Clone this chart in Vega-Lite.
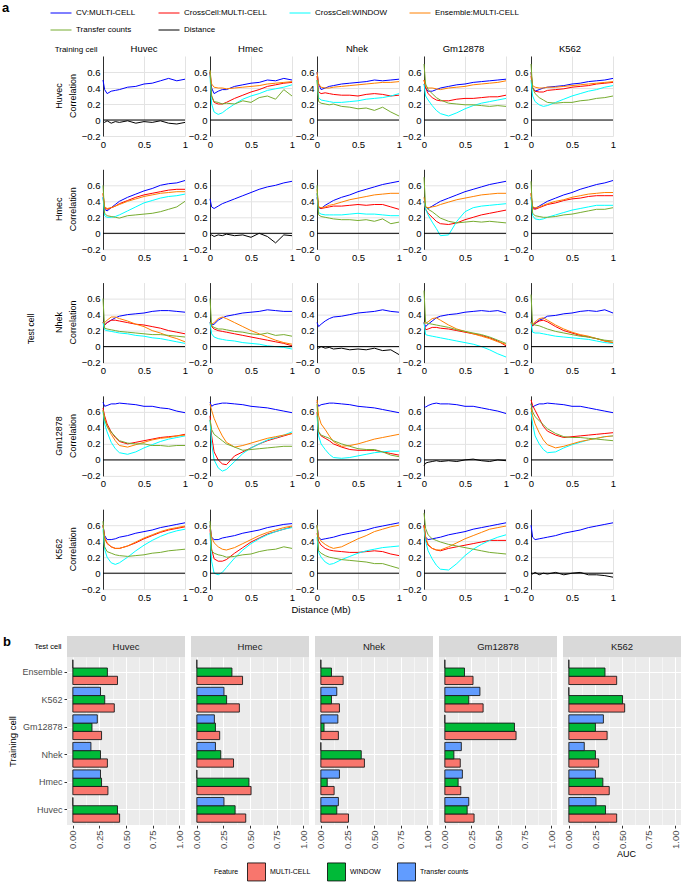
{
"$schema":"https://vega.github.io/schema/vega-lite/v6.json",
"padding":{"left":2,"top":2,"right":0,"bottom":2},
"config":{"font":"Liberation Sans","view":{"stroke":null},"axis":{"labelOverlap":false},"legend":{"layout":{"top":{"anchor":"start"},"bottom":{"anchor":"middle"}}}},
"datasets":{
"lines":[
{"t":"Huvec","r":"Huvec","x":0,"a":0.5,"d":-0.02},{"t":"Huvec","r":"Huvec","x":0.02,"a":0.38,"d":-0.03},{"t":"Huvec","r":"Huvec","x":0.05,"a":0.33,"d":-0.01},{"t":"Huvec","r":"Huvec","x":0.1,"a":0.36,"d":-0.04},{"t":"Huvec","r":"Huvec","x":0.15,"a":0.37,"d":-0.02},{"t":"Huvec","r":"Huvec","x":0.2,"a":0.38,"d":-0.03},{"t":"Huvec","r":"Huvec","x":0.3,"a":0.41,"d":-0.01},{"t":"Huvec","r":"Huvec","x":0.4,"a":0.42,"d":-0.04},{"t":"Huvec","r":"Huvec","x":0.5,"a":0.45,"d":-0.02},{"t":"Huvec","r":"Huvec","x":0.6,"a":0.46,"d":-0.03},{"t":"Huvec","r":"Huvec","x":0.7,"a":0.49,"d":-0.01},{"t":"Huvec","r":"Huvec","x":0.8,"a":0.52,"d":-0.04},{"t":"Huvec","r":"Huvec","x":0.9,"a":0.49,"d":-0.05},{"t":"Huvec","r":"Huvec","x":1,"a":0.51,"d":-0.03},
{"t":"Huvec","r":"Hmec","x":0,"a":0.6,"m":0.6,"w":0.55,"e":0.62,"g":0.62},{"t":"Huvec","r":"Hmec","x":0.02,"a":0.4,"m":0.3,"w":0.2,"e":0.45,"g":0.3},{"t":"Huvec","r":"Hmec","x":0.05,"a":0.33,"m":0.22,"w":0.1,"e":0.41,"g":0.23},{"t":"Huvec","r":"Hmec","x":0.1,"a":0.36,"m":0.2,"w":0.07,"e":0.4,"g":0.22},{"t":"Huvec","r":"Hmec","x":0.15,"a":0.38,"m":0.2,"w":0.09,"e":0.4,"g":0.2},{"t":"Huvec","r":"Hmec","x":0.2,"a":0.38,"m":0.22,"w":0.13,"e":0.39,"g":0.21},{"t":"Huvec","r":"Hmec","x":0.3,"a":0.42,"m":0.27,"w":0.2,"e":0.4,"g":0.2},{"t":"Huvec","r":"Hmec","x":0.4,"a":0.44,"m":0.31,"w":0.26,"e":0.41,"g":0.24},{"t":"Huvec","r":"Hmec","x":0.5,"a":0.46,"m":0.35,"w":0.3,"e":0.42,"g":0.22},{"t":"Huvec","r":"Hmec","x":0.6,"a":0.47,"m":0.38,"w":0.33,"e":0.43,"g":0.28},{"t":"Huvec","r":"Hmec","x":0.7,"a":0.5,"m":0.42,"w":0.37,"e":0.45,"g":0.3},{"t":"Huvec","r":"Hmec","x":0.8,"a":0.49,"m":0.44,"w":0.39,"e":0.46,"g":0.26},{"t":"Huvec","r":"Hmec","x":0.9,"a":0.52,"m":0.46,"w":0.41,"e":0.47,"g":0.38},{"t":"Huvec","r":"Hmec","x":1,"a":0.5,"m":0.47,"w":0.44,"e":0.48,"g":0.3},
{"t":"Huvec","r":"Nhek","x":0,"a":0.6,"m":0.55,"w":0.5,"e":0.6,"g":0.5},{"t":"Huvec","r":"Nhek","x":0.02,"a":0.45,"m":0.35,"w":0.28,"e":0.45,"g":0.23},{"t":"Huvec","r":"Nhek","x":0.05,"a":0.38,"m":0.33,"w":0.25,"e":0.41,"g":0.21},{"t":"Huvec","r":"Nhek","x":0.1,"a":0.4,"m":0.34,"w":0.24,"e":0.4,"g":0.2},{"t":"Huvec","r":"Nhek","x":0.15,"a":0.42,"m":0.33,"w":0.23,"e":0.4,"g":0.19},{"t":"Huvec","r":"Nhek","x":0.2,"a":0.43,"m":0.32,"w":0.22,"e":0.41,"g":0.2},{"t":"Huvec","r":"Nhek","x":0.3,"a":0.45,"m":0.31,"w":0.22,"e":0.42,"g":0.17},{"t":"Huvec","r":"Nhek","x":0.4,"a":0.46,"m":0.31,"w":0.23,"e":0.43,"g":0.16},{"t":"Huvec","r":"Nhek","x":0.5,"a":0.47,"m":0.3,"w":0.24,"e":0.44,"g":0.14},{"t":"Huvec","r":"Nhek","x":0.6,"a":0.48,"m":0.32,"w":0.26,"e":0.45,"g":0.15},{"t":"Huvec","r":"Nhek","x":0.7,"a":0.5,"m":0.33,"w":0.27,"e":0.46,"g":0.12},{"t":"Huvec","r":"Nhek","x":0.8,"a":0.49,"m":0.32,"w":0.28,"e":0.47,"g":0.16},{"t":"Huvec","r":"Nhek","x":0.9,"a":0.5,"m":0.3,"w":0.3,"e":0.47,"g":0.1},{"t":"Huvec","r":"Nhek","x":1,"a":0.51,"m":0.31,"w":0.33,"e":0.48,"g":0.05},
{"t":"Huvec","r":"Gm12878","x":0,"a":0.45,"m":0.5,"w":0.45,"e":0.5,"g":0.7},{"t":"Huvec","r":"Gm12878","x":0.02,"a":0.4,"m":0.4,"w":0.3,"e":0.42,"g":0.45},{"t":"Huvec","r":"Gm12878","x":0.05,"a":0.36,"m":0.33,"w":0.25,"e":0.4,"g":0.38},{"t":"Huvec","r":"Gm12878","x":0.1,"a":0.36,"m":0.28,"w":0.18,"e":0.4,"g":0.33},{"t":"Huvec","r":"Gm12878","x":0.15,"a":0.38,"m":0.25,"w":0.12,"e":0.39,"g":0.28},{"t":"Huvec","r":"Gm12878","x":0.2,"a":0.4,"m":0.24,"w":0.08,"e":0.38,"g":0.25},{"t":"Huvec","r":"Gm12878","x":0.3,"a":0.42,"m":0.24,"w":0.05,"e":0.4,"g":0.21},{"t":"Huvec","r":"Gm12878","x":0.4,"a":0.44,"m":0.26,"w":0.09,"e":0.41,"g":0.2},{"t":"Huvec","r":"Gm12878","x":0.5,"a":0.45,"m":0.27,"w":0.14,"e":0.42,"g":0.19},{"t":"Huvec","r":"Gm12878","x":0.6,"a":0.47,"m":0.27,"w":0.18,"e":0.44,"g":0.19},{"t":"Huvec","r":"Gm12878","x":0.7,"a":0.48,"m":0.28,"w":0.21,"e":0.45,"g":0.18},{"t":"Huvec","r":"Gm12878","x":0.8,"a":0.49,"m":0.29,"w":0.23,"e":0.46,"g":0.17},{"t":"Huvec","r":"Gm12878","x":0.9,"a":0.5,"m":0.29,"w":0.25,"e":0.47,"g":0.18},{"t":"Huvec","r":"Gm12878","x":1,"a":0.51,"m":0.31,"w":0.27,"e":0.49,"g":0.17},
{"t":"Huvec","r":"K562","x":0,"a":0.6,"m":0.55,"w":0.5,"e":0.6,"g":0.7},{"t":"Huvec","r":"K562","x":0.02,"a":0.4,"m":0.4,"w":0.3,"e":0.43,"g":0.4},{"t":"Huvec","r":"K562","x":0.05,"a":0.36,"m":0.36,"w":0.23,"e":0.41,"g":0.33},{"t":"Huvec","r":"K562","x":0.1,"a":0.38,"m":0.35,"w":0.19,"e":0.4,"g":0.28},{"t":"Huvec","r":"K562","x":0.15,"a":0.4,"m":0.35,"w":0.17,"e":0.4,"g":0.25},{"t":"Huvec","r":"K562","x":0.2,"a":0.41,"m":0.37,"w":0.18,"e":0.41,"g":0.22},{"t":"Huvec","r":"K562","x":0.3,"a":0.42,"m":0.38,"w":0.22,"e":0.41,"g":0.21},{"t":"Huvec","r":"K562","x":0.4,"a":0.43,"m":0.39,"w":0.26,"e":0.42,"g":0.22},{"t":"Huvec","r":"K562","x":0.5,"a":0.45,"m":0.41,"w":0.3,"e":0.43,"g":0.22},{"t":"Huvec","r":"K562","x":0.6,"a":0.46,"m":0.42,"w":0.33,"e":0.44,"g":0.24},{"t":"Huvec","r":"K562","x":0.7,"a":0.48,"m":0.43,"w":0.36,"e":0.45,"g":0.25},{"t":"Huvec","r":"K562","x":0.8,"a":0.49,"m":0.45,"w":0.38,"e":0.46,"g":0.27},{"t":"Huvec","r":"K562","x":0.9,"a":0.5,"m":0.46,"w":0.41,"e":0.47,"g":0.28},{"t":"Huvec","r":"K562","x":1,"a":0.52,"m":0.47,"w":0.43,"e":0.48,"g":0.3},
{"t":"Hmec","r":"Huvec","x":0,"a":0.45,"m":0.5,"w":0.45,"e":0.5,"g":0.6},{"t":"Hmec","r":"Huvec","x":0.02,"a":0.3,"m":0.32,"w":0.22,"e":0.33,"g":0.25},{"t":"Hmec","r":"Huvec","x":0.05,"a":0.28,"m":0.3,"w":0.2,"e":0.31,"g":0.22},{"t":"Hmec","r":"Huvec","x":0.1,"a":0.32,"m":0.32,"w":0.2,"e":0.32,"g":0.21},{"t":"Hmec","r":"Huvec","x":0.15,"a":0.36,"m":0.34,"w":0.21,"e":0.34,"g":0.2},{"t":"Hmec","r":"Huvec","x":0.2,"a":0.4,"m":0.37,"w":0.23,"e":0.36,"g":0.19},{"t":"Hmec","r":"Huvec","x":0.3,"a":0.45,"m":0.41,"w":0.28,"e":0.4,"g":0.22},{"t":"Hmec","r":"Huvec","x":0.4,"a":0.49,"m":0.45,"w":0.33,"e":0.43,"g":0.23},{"t":"Hmec","r":"Huvec","x":0.5,"a":0.53,"m":0.48,"w":0.38,"e":0.46,"g":0.24},{"t":"Hmec","r":"Huvec","x":0.6,"a":0.56,"m":0.5,"w":0.41,"e":0.48,"g":0.25},{"t":"Hmec","r":"Huvec","x":0.7,"a":0.6,"m":0.52,"w":0.44,"e":0.5,"g":0.27},{"t":"Hmec","r":"Huvec","x":0.8,"a":0.62,"m":0.54,"w":0.46,"e":0.51,"g":0.3},{"t":"Hmec","r":"Huvec","x":0.9,"a":0.63,"m":0.55,"w":0.47,"e":0.52,"g":0.33},{"t":"Hmec","r":"Huvec","x":1,"a":0.66,"m":0.55,"w":0.49,"e":0.52,"g":0.4},
{"t":"Hmec","r":"Hmec","x":0,"a":0.43,"d":-0.03},{"t":"Hmec","r":"Hmec","x":0.02,"a":0.33,"d":-0.02},{"t":"Hmec","r":"Hmec","x":0.05,"a":0.31,"d":-0.04},{"t":"Hmec","r":"Hmec","x":0.1,"a":0.34,"d":-0.02},{"t":"Hmec","r":"Hmec","x":0.15,"a":0.37,"d":-0.03},{"t":"Hmec","r":"Hmec","x":0.2,"a":0.39,"d":-0.01},{"t":"Hmec","r":"Hmec","x":0.3,"a":0.43,"d":-0.03},{"t":"Hmec","r":"Hmec","x":0.4,"a":0.47,"d":-0.02},{"t":"Hmec","r":"Hmec","x":0.5,"a":0.51,"d":-0.05},{"t":"Hmec","r":"Hmec","x":0.6,"a":0.55,"d":0},{"t":"Hmec","r":"Hmec","x":0.7,"a":0.58,"d":-0.04},{"t":"Hmec","r":"Hmec","x":0.8,"a":0.6,"d":-0.12},{"t":"Hmec","r":"Hmec","x":0.9,"a":0.63,"d":-0.02},{"t":"Hmec","r":"Hmec","x":1,"a":0.65,"d":-0.03},
{"t":"Hmec","r":"Nhek","x":0,"a":0.45,"m":0.5,"w":0.5,"e":0.55,"g":0.6},{"t":"Hmec","r":"Nhek","x":0.02,"a":0.32,"m":0.33,"w":0.26,"e":0.33,"g":0.23},{"t":"Hmec","r":"Nhek","x":0.05,"a":0.31,"m":0.31,"w":0.24,"e":0.32,"g":0.21},{"t":"Hmec","r":"Nhek","x":0.1,"a":0.35,"m":0.32,"w":0.23,"e":0.33,"g":0.2},{"t":"Hmec","r":"Nhek","x":0.15,"a":0.38,"m":0.33,"w":0.23,"e":0.35,"g":0.19},{"t":"Hmec","r":"Nhek","x":0.2,"a":0.41,"m":0.34,"w":0.23,"e":0.36,"g":0.18},{"t":"Hmec","r":"Nhek","x":0.3,"a":0.45,"m":0.34,"w":0.23,"e":0.39,"g":0.17},{"t":"Hmec","r":"Nhek","x":0.4,"a":0.48,"m":0.35,"w":0.24,"e":0.42,"g":0.17},{"t":"Hmec","r":"Nhek","x":0.5,"a":0.52,"m":0.36,"w":0.25,"e":0.44,"g":0.16},{"t":"Hmec","r":"Nhek","x":0.6,"a":0.55,"m":0.35,"w":0.24,"e":0.46,"g":0.17},{"t":"Hmec","r":"Nhek","x":0.7,"a":0.58,"m":0.36,"w":0.24,"e":0.48,"g":0.15},{"t":"Hmec","r":"Nhek","x":0.8,"a":0.61,"m":0.36,"w":0.23,"e":0.49,"g":0.18},{"t":"Hmec","r":"Nhek","x":0.9,"a":0.63,"m":0.33,"w":0.22,"e":0.5,"g":0.12},{"t":"Hmec","r":"Nhek","x":1,"a":0.65,"m":0.3,"w":0.22,"e":0.5,"g":0.14},
{"t":"Hmec","r":"Gm12878","x":0,"a":0.4,"m":0.4,"w":0.4,"e":0.45,"g":0.7},{"t":"Hmec","r":"Gm12878","x":0.02,"a":0.33,"m":0.3,"w":0.3,"e":0.33,"g":0.33},{"t":"Hmec","r":"Gm12878","x":0.05,"a":0.31,"m":0.25,"w":0.23,"e":0.32,"g":0.3},{"t":"Hmec","r":"Gm12878","x":0.1,"a":0.34,"m":0.2,"w":0.14,"e":0.33,"g":0.27},{"t":"Hmec","r":"Gm12878","x":0.15,"a":0.37,"m":0.15,"w":0.06,"e":0.34,"g":0.23},{"t":"Hmec","r":"Gm12878","x":0.2,"a":0.4,"m":0.12,"w":-0.03,"e":0.36,"g":0.19},{"t":"Hmec","r":"Gm12878","x":0.3,"a":0.44,"m":0.11,"w":-0.02,"e":0.39,"g":0.15},{"t":"Hmec","r":"Gm12878","x":0.4,"a":0.48,"m":0.13,"w":0.15,"e":0.42,"g":0.13},{"t":"Hmec","r":"Gm12878","x":0.5,"a":0.52,"m":0.17,"w":0.27,"e":0.44,"g":0.14},{"t":"Hmec","r":"Gm12878","x":0.6,"a":0.55,"m":0.2,"w":0.32,"e":0.46,"g":0.15},{"t":"Hmec","r":"Gm12878","x":0.7,"a":0.58,"m":0.23,"w":0.34,"e":0.48,"g":0.14},{"t":"Hmec","r":"Gm12878","x":0.8,"a":0.61,"m":0.25,"w":0.35,"e":0.49,"g":0.15},{"t":"Hmec","r":"Gm12878","x":0.9,"a":0.63,"m":0.27,"w":0.36,"e":0.5,"g":0.14},{"t":"Hmec","r":"Gm12878","x":1,"a":0.65,"m":0.29,"w":0.37,"e":0.5,"g":0.13},
{"t":"Hmec","r":"K562","x":0,"a":0.45,"m":0.5,"w":0.45,"e":0.5,"g":0.65},{"t":"Hmec","r":"K562","x":0.02,"a":0.33,"m":0.31,"w":0.22,"e":0.33,"g":0.25},{"t":"Hmec","r":"K562","x":0.05,"a":0.31,"m":0.3,"w":0.18,"e":0.32,"g":0.22},{"t":"Hmec","r":"K562","x":0.1,"a":0.34,"m":0.32,"w":0.17,"e":0.33,"g":0.21},{"t":"Hmec","r":"K562","x":0.15,"a":0.37,"m":0.34,"w":0.18,"e":0.35,"g":0.2},{"t":"Hmec","r":"K562","x":0.2,"a":0.4,"m":0.36,"w":0.2,"e":0.37,"g":0.2},{"t":"Hmec","r":"K562","x":0.3,"a":0.44,"m":0.38,"w":0.23,"e":0.4,"g":0.21},{"t":"Hmec","r":"K562","x":0.4,"a":0.48,"m":0.41,"w":0.26,"e":0.42,"g":0.23},{"t":"Hmec","r":"K562","x":0.5,"a":0.51,"m":0.43,"w":0.29,"e":0.45,"g":0.24},{"t":"Hmec","r":"K562","x":0.6,"a":0.55,"m":0.44,"w":0.31,"e":0.47,"g":0.26},{"t":"Hmec","r":"K562","x":0.7,"a":0.58,"m":0.46,"w":0.33,"e":0.49,"g":0.28},{"t":"Hmec","r":"K562","x":0.8,"a":0.61,"m":0.47,"w":0.35,"e":0.5,"g":0.3},{"t":"Hmec","r":"K562","x":0.9,"a":0.63,"m":0.47,"w":0.35,"e":0.51,"g":0.3},{"t":"Hmec","r":"K562","x":1,"a":0.66,"m":0.47,"w":0.35,"e":0.51,"g":0.32},
{"t":"Nhek","r":"Huvec","x":0,"a":0.3,"m":0.3,"w":0.3,"e":0.3,"g":0.6},{"t":"Nhek","r":"Huvec","x":0.02,"a":0.27,"m":0.27,"w":0.21,"e":0.3,"g":0.23},{"t":"Nhek","r":"Huvec","x":0.05,"a":0.3,"m":0.3,"w":0.2,"e":0.33,"g":0.22},{"t":"Nhek","r":"Huvec","x":0.1,"a":0.33,"m":0.33,"w":0.19,"e":0.37,"g":0.21},{"t":"Nhek","r":"Huvec","x":0.15,"a":0.36,"m":0.33,"w":0.18,"e":0.37,"g":0.2},{"t":"Nhek","r":"Huvec","x":0.2,"a":0.38,"m":0.32,"w":0.17,"e":0.35,"g":0.19},{"t":"Nhek","r":"Huvec","x":0.3,"a":0.4,"m":0.3,"w":0.16,"e":0.32,"g":0.18},{"t":"Nhek","r":"Huvec","x":0.4,"a":0.41,"m":0.28,"w":0.14,"e":0.28,"g":0.17},{"t":"Nhek","r":"Huvec","x":0.5,"a":0.42,"m":0.27,"w":0.13,"e":0.25,"g":0.16},{"t":"Nhek","r":"Huvec","x":0.6,"a":0.44,"m":0.25,"w":0.11,"e":0.2,"g":0.15},{"t":"Nhek","r":"Huvec","x":0.7,"a":0.45,"m":0.23,"w":0.1,"e":0.17,"g":0.15},{"t":"Nhek","r":"Huvec","x":0.8,"a":0.45,"m":0.2,"w":0.08,"e":0.13,"g":0.14},{"t":"Nhek","r":"Huvec","x":0.9,"a":0.44,"m":0.18,"w":0.06,"e":0.1,"g":0.13},{"t":"Nhek","r":"Huvec","x":1,"a":0.43,"m":0.16,"w":0.04,"e":0.06,"g":0.12},
{"t":"Nhek","r":"Hmec","x":0,"a":0.3,"m":0.3,"w":0.3,"e":0.3,"g":0.6},{"t":"Nhek","r":"Hmec","x":0.02,"a":0.27,"m":0.25,"w":0.16,"e":0.28,"g":0.26},{"t":"Nhek","r":"Hmec","x":0.05,"a":0.28,"m":0.22,"w":0.12,"e":0.3,"g":0.24},{"t":"Nhek","r":"Hmec","x":0.1,"a":0.33,"m":0.2,"w":0.1,"e":0.35,"g":0.22},{"t":"Nhek","r":"Hmec","x":0.15,"a":0.36,"m":0.19,"w":0.09,"e":0.37,"g":0.22},{"t":"Nhek","r":"Hmec","x":0.2,"a":0.38,"m":0.18,"w":0.08,"e":0.35,"g":0.21},{"t":"Nhek","r":"Hmec","x":0.3,"a":0.4,"m":0.16,"w":0.07,"e":0.3,"g":0.19},{"t":"Nhek","r":"Hmec","x":0.4,"a":0.42,"m":0.14,"w":0.05,"e":0.25,"g":0.18},{"t":"Nhek","r":"Hmec","x":0.5,"a":0.43,"m":0.12,"w":0.04,"e":0.2,"g":0.16},{"t":"Nhek","r":"Hmec","x":0.6,"a":0.44,"m":0.1,"w":0.03,"e":0.16,"g":0.15},{"t":"Nhek","r":"Hmec","x":0.7,"a":0.46,"m":0.08,"w":0.01,"e":0.12,"g":0.17},{"t":"Nhek","r":"Hmec","x":0.8,"a":0.45,"m":0.06,"w":0,"e":0.08,"g":0.14},{"t":"Nhek","r":"Hmec","x":0.9,"a":0.44,"m":0.04,"w":-0.01,"e":0.05,"g":0.15},{"t":"Nhek","r":"Hmec","x":1,"a":0.44,"m":0.01,"w":-0.03,"e":0.03,"g":0.13},
{"t":"Nhek","r":"Nhek","x":0,"a":0.3,"d":0},{"t":"Nhek","r":"Nhek","x":0.02,"a":0.25,"d":-0.02},{"t":"Nhek","r":"Nhek","x":0.05,"a":0.28,"d":0},{"t":"Nhek","r":"Nhek","x":0.1,"a":0.32,"d":-0.02},{"t":"Nhek","r":"Nhek","x":0.15,"a":0.35,"d":-0.01},{"t":"Nhek","r":"Nhek","x":0.2,"a":0.37,"d":-0.03},{"t":"Nhek","r":"Nhek","x":0.3,"a":0.38,"d":-0.02},{"t":"Nhek","r":"Nhek","x":0.4,"a":0.4,"d":-0.04},{"t":"Nhek","r":"Nhek","x":0.5,"a":0.42,"d":-0.03},{"t":"Nhek","r":"Nhek","x":0.6,"a":0.43,"d":-0.04},{"t":"Nhek","r":"Nhek","x":0.7,"a":0.44,"d":-0.02},{"t":"Nhek","r":"Nhek","x":0.8,"a":0.46,"d":-0.05},{"t":"Nhek","r":"Nhek","x":0.9,"a":0.44,"d":-0.04},{"t":"Nhek","r":"Nhek","x":1,"a":0.43,"d":-0.1},
{"t":"Nhek","r":"Gm12878","x":0,"a":0.3,"m":0.3,"w":0.3,"e":0.3,"g":0.7},{"t":"Nhek","r":"Gm12878","x":0.02,"a":0.25,"m":0.21,"w":0.15,"e":0.29,"g":0.3},{"t":"Nhek","r":"Gm12878","x":0.05,"a":0.28,"m":0.22,"w":0.14,"e":0.31,"g":0.29},{"t":"Nhek","r":"Gm12878","x":0.1,"a":0.32,"m":0.24,"w":0.13,"e":0.35,"g":0.28},{"t":"Nhek","r":"Gm12878","x":0.15,"a":0.36,"m":0.24,"w":0.12,"e":0.36,"g":0.27},{"t":"Nhek","r":"Gm12878","x":0.2,"a":0.38,"m":0.23,"w":0.11,"e":0.33,"g":0.26},{"t":"Nhek","r":"Gm12878","x":0.3,"a":0.4,"m":0.22,"w":0.09,"e":0.27,"g":0.24},{"t":"Nhek","r":"Gm12878","x":0.4,"a":0.41,"m":0.2,"w":0.07,"e":0.22,"g":0.21},{"t":"Nhek","r":"Gm12878","x":0.5,"a":0.43,"m":0.18,"w":0.05,"e":0.19,"g":0.19},{"t":"Nhek","r":"Gm12878","x":0.6,"a":0.44,"m":0.16,"w":0.03,"e":0.16,"g":0.17},{"t":"Nhek","r":"Gm12878","x":0.7,"a":0.45,"m":0.14,"w":0,"e":0.13,"g":0.15},{"t":"Nhek","r":"Gm12878","x":0.8,"a":0.44,"m":0.11,"w":-0.04,"e":0.1,"g":0.12},{"t":"Nhek","r":"Gm12878","x":0.9,"a":0.45,"m":0.07,"w":-0.09,"e":0.06,"g":0.08},{"t":"Nhek","r":"Gm12878","x":1,"a":0.42,"m":0.01,"w":-0.13,"e":0.03,"g":0.04},
{"t":"Nhek","r":"K562","x":0,"a":0.3,"m":0.3,"w":0.3,"e":0.3,"g":0.65},{"t":"Nhek","r":"K562","x":0.02,"a":0.26,"m":0.26,"w":0.18,"e":0.28,"g":0.28},{"t":"Nhek","r":"K562","x":0.05,"a":0.29,"m":0.29,"w":0.17,"e":0.31,"g":0.27},{"t":"Nhek","r":"K562","x":0.1,"a":0.33,"m":0.32,"w":0.17,"e":0.35,"g":0.26},{"t":"Nhek","r":"K562","x":0.15,"a":0.35,"m":0.33,"w":0.16,"e":0.36,"g":0.24},{"t":"Nhek","r":"K562","x":0.2,"a":0.38,"m":0.31,"w":0.15,"e":0.33,"g":0.22},{"t":"Nhek","r":"K562","x":0.3,"a":0.39,"m":0.25,"w":0.13,"e":0.27,"g":0.19},{"t":"Nhek","r":"K562","x":0.4,"a":0.41,"m":0.2,"w":0.12,"e":0.22,"g":0.17},{"t":"Nhek","r":"K562","x":0.5,"a":0.42,"m":0.17,"w":0.11,"e":0.18,"g":0.15},{"t":"Nhek","r":"K562","x":0.6,"a":0.44,"m":0.14,"w":0.1,"e":0.15,"g":0.13},{"t":"Nhek","r":"K562","x":0.7,"a":0.45,"m":0.12,"w":0.09,"e":0.13,"g":0.12},{"t":"Nhek","r":"K562","x":0.8,"a":0.44,"m":0.1,"w":0.07,"e":0.1,"g":0.1},{"t":"Nhek","r":"K562","x":0.9,"a":0.46,"m":0.07,"w":0.05,"e":0.07,"g":0.08},{"t":"Nhek","r":"K562","x":1,"a":0.42,"m":0.05,"w":0.04,"e":0.05,"g":0.07},
{"t":"Gm12878","r":"Huvec","x":0,"a":0.72,"m":0.65,"w":0.6,"e":0.62,"g":0.62},{"t":"Gm12878","r":"Huvec","x":0.02,"a":0.67,"m":0.55,"w":0.45,"e":0.52,"g":0.5},{"t":"Gm12878","r":"Huvec","x":0.05,"a":0.68,"m":0.45,"w":0.35,"e":0.42,"g":0.42},{"t":"Gm12878","r":"Huvec","x":0.1,"a":0.7,"m":0.35,"w":0.22,"e":0.32,"g":0.35},{"t":"Gm12878","r":"Huvec","x":0.15,"a":0.7,"m":0.28,"w":0.14,"e":0.24,"g":0.29},{"t":"Gm12878","r":"Huvec","x":0.2,"a":0.71,"m":0.23,"w":0.09,"e":0.18,"g":0.24},{"t":"Gm12878","r":"Huvec","x":0.3,"a":0.7,"m":0.2,"w":0.07,"e":0.16,"g":0.21},{"t":"Gm12878","r":"Huvec","x":0.4,"a":0.69,"m":0.22,"w":0.1,"e":0.19,"g":0.2},{"t":"Gm12878","r":"Huvec","x":0.5,"a":0.67,"m":0.24,"w":0.15,"e":0.22,"g":0.2},{"t":"Gm12878","r":"Huvec","x":0.6,"a":0.67,"m":0.26,"w":0.19,"e":0.25,"g":0.18},{"t":"Gm12878","r":"Huvec","x":0.7,"a":0.65,"m":0.28,"w":0.23,"e":0.27,"g":0.18},{"t":"Gm12878","r":"Huvec","x":0.8,"a":0.64,"m":0.29,"w":0.26,"e":0.28,"g":0.17},{"t":"Gm12878","r":"Huvec","x":0.9,"a":0.61,"m":0.3,"w":0.28,"e":0.3,"g":0.18},{"t":"Gm12878","r":"Huvec","x":1,"a":0.59,"m":0.32,"w":0.3,"e":0.31,"g":0.18},
{"t":"Gm12878","r":"Hmec","x":0,"a":0.72,"m":0.55,"w":0.5,"e":0.7,"g":0.5},{"t":"Gm12878","r":"Hmec","x":0.02,"a":0.67,"m":0.3,"w":0.2,"e":0.62,"g":0.38},{"t":"Gm12878","r":"Hmec","x":0.05,"a":0.69,"m":0.1,"w":0,"e":0.52,"g":0.32},{"t":"Gm12878","r":"Hmec","x":0.1,"a":0.7,"m":0,"w":-0.1,"e":0.4,"g":0.28},{"t":"Gm12878","r":"Hmec","x":0.15,"a":0.71,"m":-0.05,"w":-0.14,"e":0.3,"g":0.24},{"t":"Gm12878","r":"Hmec","x":0.2,"a":0.71,"m":-0.06,"w":-0.12,"e":0.22,"g":0.2},{"t":"Gm12878","r":"Hmec","x":0.3,"a":0.7,"m":0.05,"w":-0.02,"e":0.16,"g":0.16},{"t":"Gm12878","r":"Hmec","x":0.4,"a":0.69,"m":0.1,"w":0.08,"e":0.18,"g":0.12},{"t":"Gm12878","r":"Hmec","x":0.5,"a":0.67,"m":0.15,"w":0.15,"e":0.21,"g":0.13},{"t":"Gm12878","r":"Hmec","x":0.6,"a":0.66,"m":0.2,"w":0.2,"e":0.24,"g":0.14},{"t":"Gm12878","r":"Hmec","x":0.7,"a":0.65,"m":0.24,"w":0.25,"e":0.27,"g":0.15},{"t":"Gm12878","r":"Hmec","x":0.8,"a":0.63,"m":0.27,"w":0.28,"e":0.29,"g":0.16},{"t":"Gm12878","r":"Hmec","x":0.9,"a":0.61,"m":0.3,"w":0.31,"e":0.31,"g":0.17},{"t":"Gm12878","r":"Hmec","x":1,"a":0.59,"m":0.33,"w":0.35,"e":0.33,"g":0.17},
{"t":"Gm12878","r":"Nhek","x":0,"a":0.72,"m":0.6,"w":0.55,"e":0.75,"g":0.7},{"t":"Gm12878","r":"Nhek","x":0.02,"a":0.67,"m":0.35,"w":0.3,"e":0.55,"g":0.35},{"t":"Gm12878","r":"Nhek","x":0.05,"a":0.69,"m":0.3,"w":0.2,"e":0.45,"g":0.31},{"t":"Gm12878","r":"Nhek","x":0.1,"a":0.7,"m":0.27,"w":0.13,"e":0.38,"g":0.29},{"t":"Gm12878","r":"Nhek","x":0.15,"a":0.71,"m":0.24,"w":0.07,"e":0.3,"g":0.27},{"t":"Gm12878","r":"Nhek","x":0.2,"a":0.71,"m":0.2,"w":0.03,"e":0.23,"g":0.24},{"t":"Gm12878","r":"Nhek","x":0.3,"a":0.7,"m":0.16,"w":0.02,"e":0.17,"g":0.2},{"t":"Gm12878","r":"Nhek","x":0.4,"a":0.69,"m":0.13,"w":0.03,"e":0.18,"g":0.17},{"t":"Gm12878","r":"Nhek","x":0.5,"a":0.67,"m":0.12,"w":0.05,"e":0.2,"g":0.14},{"t":"Gm12878","r":"Nhek","x":0.6,"a":0.66,"m":0.12,"w":0.07,"e":0.23,"g":0.13},{"t":"Gm12878","r":"Nhek","x":0.7,"a":0.65,"m":0.12,"w":0.09,"e":0.26,"g":0.13},{"t":"Gm12878","r":"Nhek","x":0.8,"a":0.63,"m":0.1,"w":0.1,"e":0.28,"g":0.1},{"t":"Gm12878","r":"Nhek","x":0.9,"a":0.61,"m":0.08,"w":0.11,"e":0.3,"g":0.06},{"t":"Gm12878","r":"Nhek","x":1,"a":0.59,"m":0.06,"w":0.11,"e":0.32,"g":0.04},
{"t":"Gm12878","r":"Gm12878","x":0,"a":0.68,"d":-0.07},{"t":"Gm12878","r":"Gm12878","x":0.02,"a":0.66,"d":-0.04},{"t":"Gm12878","r":"Gm12878","x":0.05,"a":0.68,"d":-0.03},{"t":"Gm12878","r":"Gm12878","x":0.1,"a":0.7,"d":-0.02},{"t":"Gm12878","r":"Gm12878","x":0.15,"a":0.71,"d":-0.01},{"t":"Gm12878","r":"Gm12878","x":0.2,"a":0.7,"d":-0.02},{"t":"Gm12878","r":"Gm12878","x":0.3,"a":0.7,"d":-0.01},{"t":"Gm12878","r":"Gm12878","x":0.4,"a":0.69,"d":-0.02},{"t":"Gm12878","r":"Gm12878","x":0.5,"a":0.67,"d":0},{"t":"Gm12878","r":"Gm12878","x":0.6,"a":0.67,"d":0.01},{"t":"Gm12878","r":"Gm12878","x":0.7,"a":0.65,"d":-0.01},{"t":"Gm12878","r":"Gm12878","x":0.8,"a":0.63,"d":-0.02},{"t":"Gm12878","r":"Gm12878","x":0.9,"a":0.61,"d":0},{"t":"Gm12878","r":"Gm12878","x":1,"a":0.58,"d":-0.01},
{"t":"Gm12878","r":"K562","x":0,"a":0.7,"m":0.75,"w":0.6,"e":0.65,"g":0.7},{"t":"Gm12878","r":"K562","x":0.02,"a":0.66,"m":0.68,"w":0.45,"e":0.55,"g":0.6},{"t":"Gm12878","r":"K562","x":0.05,"a":0.68,"m":0.62,"w":0.3,"e":0.45,"g":0.54},{"t":"Gm12878","r":"K562","x":0.1,"a":0.7,"m":0.52,"w":0.2,"e":0.34,"g":0.49},{"t":"Gm12878","r":"K562","x":0.15,"a":0.7,"m":0.42,"w":0.13,"e":0.25,"g":0.44},{"t":"Gm12878","r":"K562","x":0.2,"a":0.71,"m":0.36,"w":0.09,"e":0.19,"g":0.39},{"t":"Gm12878","r":"K562","x":0.3,"a":0.7,"m":0.31,"w":0.1,"e":0.15,"g":0.33},{"t":"Gm12878","r":"K562","x":0.4,"a":0.69,"m":0.28,"w":0.15,"e":0.17,"g":0.29},{"t":"Gm12878","r":"K562","x":0.5,"a":0.67,"m":0.29,"w":0.19,"e":0.2,"g":0.28},{"t":"Gm12878","r":"K562","x":0.6,"a":0.67,"m":0.3,"w":0.22,"e":0.23,"g":0.28},{"t":"Gm12878","r":"K562","x":0.7,"a":0.65,"m":0.31,"w":0.25,"e":0.25,"g":0.27},{"t":"Gm12878","r":"K562","x":0.8,"a":0.63,"m":0.32,"w":0.27,"e":0.27,"g":0.26},{"t":"Gm12878","r":"K562","x":0.9,"a":0.61,"m":0.33,"w":0.29,"e":0.29,"g":0.25},{"t":"Gm12878","r":"K562","x":1,"a":0.59,"m":0.34,"w":0.3,"e":0.3,"g":0.24},
{"t":"K562","r":"Huvec","x":0,"a":0.6,"m":0.6,"w":0.55,"e":0.6,"g":0.65},{"t":"K562","r":"Huvec","x":0.02,"a":0.47,"m":0.44,"w":0.3,"e":0.45,"g":0.33},{"t":"K562","r":"Huvec","x":0.05,"a":0.42,"m":0.37,"w":0.2,"e":0.38,"g":0.27},{"t":"K562","r":"Huvec","x":0.1,"a":0.42,"m":0.33,"w":0.13,"e":0.33,"g":0.25},{"t":"K562","r":"Huvec","x":0.15,"a":0.43,"m":0.31,"w":0.11,"e":0.31,"g":0.23},{"t":"K562","r":"Huvec","x":0.2,"a":0.45,"m":0.31,"w":0.13,"e":0.31,"g":0.22},{"t":"K562","r":"Huvec","x":0.3,"a":0.47,"m":0.34,"w":0.2,"e":0.34,"g":0.21},{"t":"K562","r":"Huvec","x":0.4,"a":0.5,"m":0.38,"w":0.28,"e":0.39,"g":0.22},{"t":"K562","r":"Huvec","x":0.5,"a":0.52,"m":0.43,"w":0.35,"e":0.44,"g":0.23},{"t":"K562","r":"Huvec","x":0.6,"a":0.54,"m":0.47,"w":0.41,"e":0.48,"g":0.25},{"t":"K562","r":"Huvec","x":0.7,"a":0.57,"m":0.51,"w":0.46,"e":0.52,"g":0.26},{"t":"K562","r":"Huvec","x":0.8,"a":0.59,"m":0.54,"w":0.5,"e":0.55,"g":0.28},{"t":"K562","r":"Huvec","x":0.9,"a":0.61,"m":0.56,"w":0.53,"e":0.57,"g":0.29},{"t":"K562","r":"Huvec","x":1,"a":0.63,"m":0.58,"w":0.55,"e":0.59,"g":0.3},
{"t":"K562","r":"Hmec","x":0,"a":0.6,"m":0.55,"w":0.5,"e":0.6,"g":0.65},{"t":"K562","r":"Hmec","x":0.02,"a":0.45,"m":0.3,"w":0.15,"e":0.45,"g":0.28},{"t":"K562","r":"Hmec","x":0.05,"a":0.42,"m":0.18,"w":0,"e":0.38,"g":0.25},{"t":"K562","r":"Hmec","x":0.1,"a":0.42,"m":0.15,"w":-0.02,"e":0.33,"g":0.23},{"t":"K562","r":"Hmec","x":0.15,"a":0.44,"m":0.15,"w":0.01,"e":0.3,"g":0.22},{"t":"K562","r":"Hmec","x":0.2,"a":0.45,"m":0.17,"w":0.07,"e":0.29,"g":0.2},{"t":"K562","r":"Hmec","x":0.3,"a":0.47,"m":0.25,"w":0.19,"e":0.32,"g":0.21},{"t":"K562","r":"Hmec","x":0.4,"a":0.5,"m":0.32,"w":0.29,"e":0.37,"g":0.23},{"t":"K562","r":"Hmec","x":0.5,"a":0.52,"m":0.39,"w":0.37,"e":0.42,"g":0.24},{"t":"K562","r":"Hmec","x":0.6,"a":0.54,"m":0.44,"w":0.43,"e":0.47,"g":0.27},{"t":"K562","r":"Hmec","x":0.7,"a":0.57,"m":0.49,"w":0.48,"e":0.51,"g":0.29},{"t":"K562","r":"Hmec","x":0.8,"a":0.59,"m":0.52,"w":0.52,"e":0.54,"g":0.3},{"t":"K562","r":"Hmec","x":0.9,"a":0.61,"m":0.55,"w":0.55,"e":0.57,"g":0.33},{"t":"K562","r":"Hmec","x":1,"a":0.62,"m":0.58,"w":0.57,"e":0.59,"g":0.31},
{"t":"K562","r":"Nhek","x":0,"a":0.6,"m":0.5,"w":0.45,"e":0.6,"g":0.6},{"t":"K562","r":"Nhek","x":0.02,"a":0.45,"m":0.4,"w":0.26,"e":0.45,"g":0.28},{"t":"K562","r":"Nhek","x":0.05,"a":0.42,"m":0.35,"w":0.2,"e":0.4,"g":0.25},{"t":"K562","r":"Nhek","x":0.1,"a":0.43,"m":0.31,"w":0.14,"e":0.36,"g":0.22},{"t":"K562","r":"Nhek","x":0.15,"a":0.44,"m":0.29,"w":0.11,"e":0.33,"g":0.2},{"t":"K562","r":"Nhek","x":0.2,"a":0.45,"m":0.28,"w":0.12,"e":0.31,"g":0.19},{"t":"K562","r":"Nhek","x":0.3,"a":0.48,"m":0.27,"w":0.17,"e":0.33,"g":0.17},{"t":"K562","r":"Nhek","x":0.4,"a":0.5,"m":0.26,"w":0.21,"e":0.38,"g":0.16},{"t":"K562","r":"Nhek","x":0.5,"a":0.52,"m":0.26,"w":0.25,"e":0.43,"g":0.15},{"t":"K562","r":"Nhek","x":0.6,"a":0.54,"m":0.27,"w":0.28,"e":0.47,"g":0.14},{"t":"K562","r":"Nhek","x":0.7,"a":0.57,"m":0.28,"w":0.3,"e":0.52,"g":0.12},{"t":"K562","r":"Nhek","x":0.8,"a":0.59,"m":0.27,"w":0.32,"e":0.55,"g":0.12},{"t":"K562","r":"Nhek","x":0.9,"a":0.61,"m":0.24,"w":0.33,"e":0.58,"g":0.09},{"t":"K562","r":"Nhek","x":1,"a":0.63,"m":0.22,"w":0.34,"e":0.6,"g":0.06},
{"t":"K562","r":"Gm12878","x":0,"a":0.6,"m":0.6,"w":0.55,"e":0.6,"g":0.75},{"t":"K562","r":"Gm12878","x":0.02,"a":0.45,"m":0.42,"w":0.4,"e":0.45,"g":0.56},{"t":"K562","r":"Gm12878","x":0.05,"a":0.42,"m":0.35,"w":0.28,"e":0.36,"g":0.48},{"t":"K562","r":"Gm12878","x":0.1,"a":0.43,"m":0.31,"w":0.18,"e":0.31,"g":0.43},{"t":"K562","r":"Gm12878","x":0.15,"a":0.44,"m":0.29,"w":0.1,"e":0.29,"g":0.41},{"t":"K562","r":"Gm12878","x":0.2,"a":0.45,"m":0.28,"w":0.05,"e":0.29,"g":0.39},{"t":"K562","r":"Gm12878","x":0.3,"a":0.48,"m":0.31,"w":0.04,"e":0.33,"g":0.36},{"t":"K562","r":"Gm12878","x":0.4,"a":0.5,"m":0.33,"w":0.12,"e":0.38,"g":0.34},{"t":"K562","r":"Gm12878","x":0.5,"a":0.52,"m":0.35,"w":0.22,"e":0.43,"g":0.32},{"t":"K562","r":"Gm12878","x":0.6,"a":0.55,"m":0.37,"w":0.3,"e":0.47,"g":0.3},{"t":"K562","r":"Gm12878","x":0.7,"a":0.57,"m":0.39,"w":0.36,"e":0.51,"g":0.28},{"t":"K562","r":"Gm12878","x":0.8,"a":0.59,"m":0.41,"w":0.41,"e":0.55,"g":0.26},{"t":"K562","r":"Gm12878","x":0.9,"a":0.61,"m":0.41,"w":0.45,"e":0.57,"g":0.25},{"t":"K562","r":"Gm12878","x":1,"a":0.63,"m":0.41,"w":0.48,"e":0.59,"g":0.24},
{"t":"K562","r":"K562","x":0,"a":0.6,"d":0},{"t":"K562","r":"K562","x":0.02,"a":0.45,"d":-0.01},{"t":"K562","r":"K562","x":0.05,"a":0.42,"d":0.01},{"t":"K562","r":"K562","x":0.1,"a":0.43,"d":-0.02},{"t":"K562","r":"K562","x":0.15,"a":0.44,"d":0},{"t":"K562","r":"K562","x":0.2,"a":0.45,"d":-0.01},{"t":"K562","r":"K562","x":0.3,"a":0.47,"d":0.01},{"t":"K562","r":"K562","x":0.4,"a":0.5,"d":-0.02},{"t":"K562","r":"K562","x":0.5,"a":0.52,"d":0},{"t":"K562","r":"K562","x":0.6,"a":0.54,"d":0.01},{"t":"K562","r":"K562","x":0.7,"a":0.57,"d":-0.02},{"t":"K562","r":"K562","x":0.8,"a":0.59,"d":-0.02},{"t":"K562","r":"K562","x":0.9,"a":0.61,"d":-0.03},{"t":"K562","r":"K562","x":1,"a":0.63,"d":-0.05}
],
"bars":[
{"test":"Huvec","train":"Ensemble","MULTI-CELL":0.42,"WINDOW":0.325,"Transfer counts":0},
{"test":"Huvec","train":"K562","MULTI-CELL":0.39,"WINDOW":0.3,"Transfer counts":0.26},
{"test":"Huvec","train":"Gm12878","MULTI-CELL":0.27,"WINDOW":0.18,"Transfer counts":0.23},
{"test":"Huvec","train":"Nhek","MULTI-CELL":0.325,"WINDOW":0.26,"Transfer counts":0.17},
{"test":"Huvec","train":"Hmec","MULTI-CELL":0.33,"WINDOW":0.27,"Transfer counts":0.26},
{"test":"Huvec","train":"Huvec","MULTI-CELL":0.44,"WINDOW":0.42,"Transfer counts":0},
{"test":"Hmec","train":"Ensemble","MULTI-CELL":0.43,"WINDOW":0.33,"Transfer counts":0},
{"test":"Hmec","train":"K562","MULTI-CELL":0.4,"WINDOW":0.28,"Transfer counts":0.255},
{"test":"Hmec","train":"Gm12878","MULTI-CELL":0.215,"WINDOW":0.175,"Transfer counts":0.165},
{"test":"Hmec","train":"Nhek","MULTI-CELL":0.345,"WINDOW":0.225,"Transfer counts":0.175},
{"test":"Hmec","train":"Hmec","MULTI-CELL":0.51,"WINDOW":0.49,"Transfer counts":0},
{"test":"Hmec","train":"Huvec","MULTI-CELL":0.46,"WINDOW":0.36,"Transfer counts":0.255},
{"test":"Nhek","train":"Ensemble","MULTI-CELL":0.21,"WINDOW":0.1,"Transfer counts":0},
{"test":"Nhek","train":"K562","MULTI-CELL":0.175,"WINDOW":0.1,"Transfer counts":0.15},
{"test":"Nhek","train":"Gm12878","MULTI-CELL":0.165,"WINDOW":0.03,"Transfer counts":0.16},
{"test":"Nhek","train":"Nhek","MULTI-CELL":0.41,"WINDOW":0.38,"Transfer counts":0},
{"test":"Nhek","train":"Hmec","MULTI-CELL":0.125,"WINDOW":0.06,"Transfer counts":0.175},
{"test":"Nhek","train":"Huvec","MULTI-CELL":0.26,"WINDOW":0.15,"Transfer counts":0.165},
{"test":"Gm12878","train":"Ensemble","MULTI-CELL":0.265,"WINDOW":0.185,"Transfer counts":0},
{"test":"Gm12878","train":"K562","MULTI-CELL":0.36,"WINDOW":0.225,"Transfer counts":0.33},
{"test":"Gm12878","train":"Gm12878","MULTI-CELL":0.67,"WINDOW":0.655,"Transfer counts":0},
{"test":"Gm12878","train":"Nhek","MULTI-CELL":0.145,"WINDOW":0.085,"Transfer counts":0.155},
{"test":"Gm12878","train":"Hmec","MULTI-CELL":0.15,"WINDOW":0.125,"Transfer counts":0.165},
{"test":"Gm12878","train":"Huvec","MULTI-CELL":0.275,"WINDOW":0.21,"Transfer counts":0.225},
{"test":"K562","train":"Ensemble","MULTI-CELL":0.45,"WINDOW":0.34,"Transfer counts":0},
{"test":"K562","train":"K562","MULTI-CELL":0.525,"WINDOW":0.505,"Transfer counts":0},
{"test":"K562","train":"Gm12878","MULTI-CELL":0.36,"WINDOW":0.25,"Transfer counts":0.325},
{"test":"K562","train":"Nhek","MULTI-CELL":0.28,"WINDOW":0.25,"Transfer counts":0.145},
{"test":"K562","train":"Hmec","MULTI-CELL":0.38,"WINDOW":0.32,"Transfer counts":0.25},
{"test":"K562","train":"Huvec","MULTI-CELL":0.45,"WINDOW":0.345,"Transfer counts":0.255}
]
},
"align":"none",
"spacing":21,
"vconcat":[
{
"spacing":0,
"hconcat":[
{"width":24,"height":10,"data":{"values":[]},"mark":"point"},
{
"spacing":0,
"vconcat":[
{
"data":{"name":"lines"},
"transform":[{"filter":"datum.t === 'Huvec' && datum.x === 0"}],
"facet":{"column":{"field":"r","type":"nominal","sort":["Huvec","Hmec","Nhek","Gm12878","K562"],"header":{"labels":false,"title":null}}},
"spacing":24.5,
"spec":{
"width":82,"height":14,
"mark":{"type":"text","fontSize":9.5,"color":"#000000"},
"encoding":{
"text":{"field":"r","type":"nominal"},
"y":{"datum":"Training cell","type":"nominal","scale":{"paddingInner":0,"paddingOuter":0},"axis":{"title":null,"ticks":false,"domain":false,"labelFontSize":8,"labelColor":"#000","labelPadding":6}}
}
}
},
{
"title":{"text":"Distance (Mb)","orient":"bottom","anchor":"middle","fontSize":9.5,"fontWeight":"normal","offset":3},
"data":{"name":"lines"},
"transform":[{"fold":["a","m","w","e","g","d"],"as":["s","y"]},{"filter":"isValid(datum.y)"}],
"facet":{
"row":{"field":"t","type":"nominal","sort":["Huvec","Hmec","Nhek","Gm12878","K562"],"title":"Test cell","header":{"labelExpr":"[datum.value, 'Correlation']","labelFontSize":9,"labelPadding":3,"labelLineHeight":14,"titleFontSize":8.5,"titleFontWeight":"normal","titlePadding":10}},
"column":{"field":"r","type":"nominal","sort":["Huvec","Hmec","Nhek","Gm12878","K562"],"header":{"labels":false,"title":null}}
},
"spacing":{"row":20.3,"column":0},
"resolve":{"axis":{"x":"independent","y":"independent"}},
"spec":{
"width":82,"height":80,
"layer":[
{"mark":{"type":"line","strokeWidth":1},
"encoding":{
"x":{"field":"x","type":"quantitative","scale":{"domain":[0,1],"nice":false},"axis":{"title":null,"values":[0,0.5,1],"tickCount":10,"format":"~g","ticks":false,"domain":false,"labelFlush":false,"labelOverlap":false,"labelPadding":3,"gridColor":"#E3E3E3","labelFontSize":9.5,"labelColor":"#000"}},
"y":{"field":"y","type":"quantitative","scale":{"domain":[-0.2,0.8],"nice":false},"axis":{"title":null,"values":[-0.2,0,0.2,0.4,0.6],"tickCount":10,"format":"~g","ticks":false,"labelOverlap":false,"labelPadding":3,"domainColor":"#000","domainWidth":0.8,"gridColor":"#E3E3E3","labelFontSize":9.5,"labelColor":"#000"}},
"color":{"field":"s","type":"nominal","scale":{"domain":["a","m","w","e","g","d"],"range":["#0000FF","#FF0000","#00FFFF","#FF8000","#77AC30","#000000"]},
"legend":{"title":"a","orient":"top","direction":"horizontal","columns":4,"titleOrient":"left","titleAnchor":"start","titleFontSize":13,"titleFontWeight":"bold","titlePadding":40,"labelExpr":"{'a':'CV:MULTI-CELL','m':'CrossCell:MULTI-CELL','w':'CrossCell:WINDOW','e':'Ensemble:MULTI-CELL','g':'Transfer counts','d':'Distance'}[datum.label]","symbolType":"stroke","symbolSize":441,"symbolStrokeWidth":1,"labelFontSize":8,"columnPadding":20,"rowPadding":2,"offset":8}}
}},
{"transform":[{"filter":"datum.x === 0 && datum.s === 'a'"}],"mark":{"type":"rule","color":"#000000","strokeWidth":1},"encoding":{"y":{"datum":0,"type":"quantitative"}}}
]
}
}
]
}
]
},
{
"spacing":0,
"hconcat":[
{"width":1,"height":10,"data":{"values":[]},"mark":"point"},
{
"data":{"name":"bars"},
"transform":[{"fold":["MULTI-CELL","WINDOW","Transfer counts"],"as":["f","v"]}],
"spacing":0,
"vconcat":[
{
"title":{"text":"b","orient":"left","angle":0,"anchor":"end","align":"right","baseline":"top","fontWeight":"bold","fontSize":13,"offset":15},
"transform":[{"filter":"datum.train === 'Ensemble' && datum.f === 'WINDOW'"}],
"facet":{"column":{"field":"test","type":"nominal","sort":["Huvec","Hmec","Nhek","Gm12878","K562"],"header":{"labels":false,"title":null}}},
"spacing":6,
"spec":{
"width":118,"height":21,
"view":{"fill":"#D9D9D9","stroke":null},
"mark":{"type":"text","fontSize":9.5,"color":"#1A1A1A"},
"encoding":{
"text":{"field":"test","type":"nominal"},
"y":{"datum":"Test cell","type":"nominal","scale":{"paddingInner":0,"paddingOuter":0},"axis":{"title":null,"ticks":false,"domain":false,"labelFontSize":7.5,"labelColor":"#000","labelPadding":6}}
}
}
},
{
"title":{"text":"AUC","orient":"bottom","anchor":"end","dx":-45,"fontSize":9,"fontWeight":"normal","offset":2},
"facet":{"column":{"field":"test","type":"nominal","sort":["Huvec","Hmec","Nhek","Gm12878","K562"],"header":{"labels":false,"title":null}}},
"spacing":6,
"spec":{
"width":118,"height":168,
"view":{"fill":"#EBEBEB","stroke":null},
"mark":{"type":"bar","stroke":"#1A1A1A","strokeWidth":0.9},
"encoding":{
"y":{"field":"train","type":"nominal","sort":["Ensemble","K562","Gm12878","Nhek","Hmec","Huvec"],"title":"Training cell","scale":{"paddingInner":0.1,"paddingOuter":0.1},"axis":{"domain":false,"tickColor":"#333333","tickSize":3,"labelColor":"#4D4D4D","labelFontSize":9,"labelPadding":2,"grid":true,"gridColor":"#FFFFFF","gridWidth":1.1,"bandPosition":0.5,"titleFontSize":9.5,"titleFontWeight":"normal","titlePadding":4}},
"yOffset":{"field":"f","type":"nominal","sort":["Transfer counts","WINDOW","MULTI-CELL"],"scale":{"paddingInner":0,"paddingOuter":0}},
"x":{"field":"v","type":"quantitative","scale":{"domain":[-0.055,1.055],"nice":false,"zero":false},"axis":{"title":null,"values":[0,0.125,0.25,0.375,0.5,0.625,0.75,0.875,1],"tickCount":20,"labelExpr":"(datum.value*4) % 1 === 0 ? format(datum.value,'.2f') : ''","labelAngle":270,"labelAlign":"right","labelBaseline":"middle","labelFontSize":9.5,"labelColor":"#4D4D4D","labelPadding":2,"labelOverlap":false,"domain":false,"tickColor":"#333333","tickSize":3,"tickOpacity":{"condition":{"test":"(datum.value*4) % 1 !== 0","value":0},"value":1},"grid":true,"gridColor":"#FFFFFF","gridWidth":{"condition":{"test":"(datum.value*4) % 1 !== 0","value":0.5},"value":1.1}}},
"x2":{"datum":0},
"fill":{"field":"f","type":"nominal","scale":{"domain":["MULTI-CELL","WINDOW","Transfer counts"],"range":["#F8766D","#00BA38","#619CFF"]},
"legend":{"title":"Feature","orient":"bottom","direction":"horizontal","titleOrient":"left","titleFontSize":7,"titleFontWeight":"normal","titlePadding":8,"symbolType":"square","symbolSize":324,"symbolStrokeColor":"#000000","symbolStrokeWidth":0.8,"symbolOpacity":1,"labelFontSize":7,"columnPadding":14,"offset":2}}
}
}
}
]
}
]
}
]
}
